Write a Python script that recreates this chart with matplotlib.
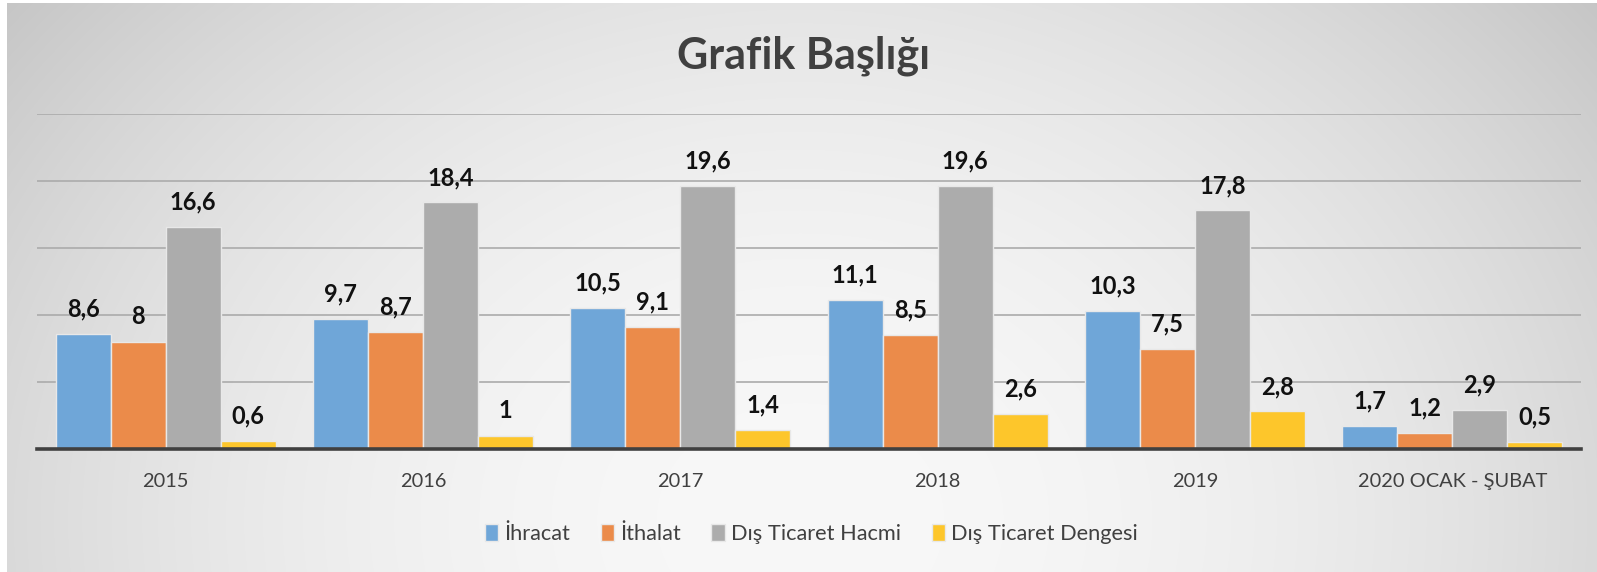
import numpy as np
import matplotlib
matplotlib.use("Agg")
import matplotlib.pyplot as plt

plt.rcParams['font.family'] = ['Lato', 'DejaVu Sans']

categories = ['2015', '2016', '2017', '2018', '2019', '2020 OCAK - ŞUBAT']
ihracat = [8.6, 9.7, 10.5, 11.1, 10.3, 1.7]
ithalat = [8, 8.7, 9.1, 8.5, 7.5, 1.2]
hacim = [16.6, 18.4, 19.6, 19.6, 17.8, 2.9]
denge = [0.6, 1, 1.4, 2.6, 2.8, 0.5]

series_names = ['İhracat', 'İthalat', 'Dış Ticaret Hacmi', 'Dış Ticaret Dengesi']
series_values = [ihracat, ithalat, hacim, denge]
colors = ['#6fa6d8', '#eb8b4a', '#acacac', '#fdc62b']

W, H = 1597, 572
fig = plt.figure(figsize=(W / 100, H / 100), dpi=100)

# background gradient (radial, light in the lower middle)
bg = fig.add_axes([0, 0, 1, 1], zorder=-10)
yy, xx = np.mgrid[0:H, 0:W]
d = np.sqrt(((xx - 800) / 760.0) ** 2 + ((yy - 520) / 620.0) ** 2)
v = np.clip(248 - 28 * d ** 2, 185, 252) / 255.0
img = np.dstack([v, v, v])
img[:, :7] = 1.0
img[:3, :] = 1.0
bg.imshow(img, aspect='auto', extent=[0, 1, 0, 1], origin='upper')
bg.axis('off')

ax = fig.add_axes([37 / W, 1 - 449 / H, (1581 - 37) / W, (449 - 114) / H])
ax.set_facecolor('none')

x = np.arange(len(categories))
bw = 0.214
for i, (name, vals, c) in enumerate(zip(series_names, series_values, colors)):
    pos = x + (i - 1.5) * bw
    bars = ax.bar(pos, vals, width=bw, color=c, edgecolor='#e8e8e8', linewidth=1.0,
                  label=name, zorder=3)
    for b, val in zip(bars, vals):
        txt = ('%g' % val).replace('.', ',')
        ax.annotate(txt, (b.get_x() + b.get_width() / 2, val), xytext=(0, 18),
                    textcoords='offset points', ha='center', va='center',
                    fontsize=17, fontweight='bold', color='#111111', zorder=5)

ax.set_xlim(-0.5, len(categories) - 0.5)
ax.set_ylim(0, 25)
ax.set_yticks([5, 10, 15, 20, 25])
ax.yaxis.grid(True, color='#ababab', linewidth=1.2, zorder=0)
ax.set_axisbelow(True)
ax.tick_params(axis='y', left=False, labelleft=False)
ax.set_xticks(x)
ax.set_xticklabels(categories, fontsize=14.4, color='#404040')
ax.tick_params(axis='x', length=0, pad=17)
for s in ['top', 'right', 'left']:
    ax.spines[s].set_visible(False)
ax.spines['bottom'].set_color('#404040')
ax.spines['bottom'].set_linewidth(2.6)
ax.spines['bottom'].set_zorder(4)

fig.text(0.503, 1 - 68 / H, 'Grafik Başlığı', ha='center', va='baseline',
         fontsize=31, fontweight='bold', color='#404040')

fig.legend(loc='center', bbox_to_anchor=(0.508, 1 - 534 / H), ncol=4, frameon=False,
           fontsize=15.7, handlelength=0.6, handleheight=0.8, handletextpad=0.3,
           columnspacing=1.4, labelcolor='#404040')

fig.savefig('out.png', dpi=100)
